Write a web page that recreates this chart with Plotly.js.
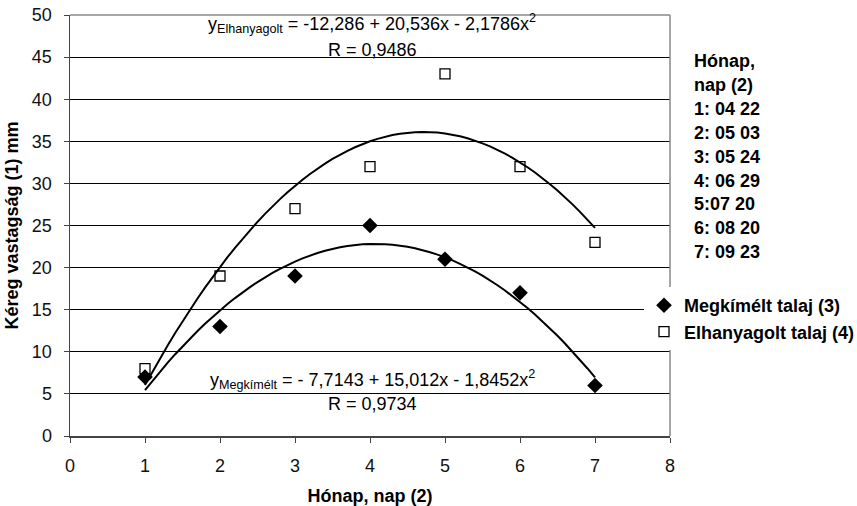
<!DOCTYPE html>
<html><head><meta charset="utf-8">
<script src="https://cdn.plot.ly/plotly-3.0.1.min.js"></script>
<style>html,body{margin:0;padding:0;background:#fff}</style>
</head><body><div id="chart" style="width:857px;height:506px"></div>
<script>
// ---- data ----
const months = [1, 2, 3, 4, 5, 6, 7];
const megkimelt = [7, 13, 19, 25, 21, 17, 6];
const elhanyagolt = [8, 19, 27, 32, 43, 32, 23];
const coefMegkimelt = [-7.7143, 15.012, -1.8452];
const coefElhanyagolt = [-12.286, 20.536, -2.1786];
const seriesNames = ['Megkímélt talaj (3)', 'Elhanyagolt talaj (4)'];
const eqElhanyagolt = 'y<sub>Elhanyagolt</sub> = -12,286 + 20,536x - 2,1786x<sup>2</sup>';
const rElhanyagolt = 'R = 0,9486';
const eqMegkimelt = 'y<sub>Megkímélt</sub> = - 7,7143 + 15,012x - 1,8452x<sup>2</sup>';
const rMegkimelt = 'R = 0,9734';
const noteLines = ['Hónap,', 'nap (2)', '1: 04 22', '2: 05 03', '3: 05 24', '4: 06 29', '5:07 20', '6: 08 20', '7: 09 23'];
const xTitle = 'Hónap, nap (2)';
const yTitle = 'Kéreg vastagság (1) mm';

// ---- trend curves from the fitted coefficients ----
function curve(c) {
  const xs = [], ys = [];
  for (let i = 0; i <= 60; i++) {
    const x = 1 + i * 0.1;
    xs.push(x);
    ys.push(c[0] + c[1] * x + c[2] * x * x);
  }
  return {x: xs, y: ys};
}
const cM = curve(coefMegkimelt), cE = curve(coefElhanyagolt);

const FONT = '"Liberation Sans", Arial, sans-serif';
const FS = 18;

const traces = [
  {x: cE.x, y: cE.y, mode: 'lines', line: {color: '#000', width: 2}, showlegend: false, hoverinfo: 'skip'},
  {x: cM.x, y: cM.y, mode: 'lines', line: {color: '#000', width: 2}, showlegend: false, hoverinfo: 'skip'},
  {x: months, y: megkimelt, mode: 'markers', name: seriesNames[0],
   marker: {symbol: 'diamond', size: 12, color: '#000', line: {width: 0}}},
  {x: months, y: elhanyagolt, mode: 'markers', name: seriesNames[1],
   marker: {symbol: 'square-open', size: 10, color: '#000', line: {width: 1.3, color: '#000'}}}
];

const T = 15, B = 70, L = 70, R = 187, H = 506 - T - B, W = 857 - L - R;
const py = p => (436 - p) / H;
const px = p => (p - L) / W;

const annotations = [
  {text: eqElhanyagolt, x: px(372), y: py(24)},
  {text: rElhanyagolt, x: px(372), y: py(50)},
  {text: eqMegkimelt, x: px(372), y: py(379)},
  {text: rMegkimelt, x: px(372), y: py(404)}
].map(a => Object.assign({xref: 'paper', yref: 'paper', xanchor: 'center', yanchor: 'middle',
  showarrow: false, font: {family: FONT, size: FS, color: '#000'}}, a));

noteLines.forEach((t, i) => {
  annotations.push({text: '<b>' + t + '</b>', xref: 'paper', yref: 'paper',
    x: px(692), y: py(61 + i * 23.9), xanchor: 'left', yanchor: 'middle', showarrow: false,
    font: {family: FONT, size: FS, color: '#000'}});
});

const layout = {
  width: 857, height: 506,
  margin: {l: L, r: R, t: T, b: B, autoexpand: false},
  paper_bgcolor: '#fff', plot_bgcolor: '#fff',
  font: {family: FONT, size: FS, color: '#000'},
  showlegend: true,
  legend: {x: px(644), y: py(287), xanchor: 'left', yanchor: 'top', bgcolor: '#fff',
    borderwidth: 0, font: {family: FONT, size: FS, color: '#000', weight: 'bold'},
    itemwidth: 30, tracegroupgap: 0},
  xaxis: {range: [0, 8], dtick: 1, tick0: 0, showgrid: false, zeroline: false,
    showline: true, linecolor: '#444', linewidth: 1.5, ticks: 'outside', ticklen: 5, tickcolor: '#444',
    tickfont: {family: FONT, size: FS, color: '#111'}, ticklabelstandoff: 8,
    title: {text: '<b>' + xTitle + '</b>', font: {family: FONT, size: FS, color: '#000'}, standoff: 14},
    fixedrange: true},
  yaxis: {range: [0, 50], dtick: 5, tick0: 0, showgrid: true, gridcolor: '#000', gridwidth: 1,
    zeroline: false, showline: true, linecolor: '#444', linewidth: 1.5, ticks: 'outside', ticklen: 5,
    tickcolor: '#444', tickfont: {family: FONT, size: FS, color: '#111'}, ticklabelstandoff: 8,
    title: {text: '<b>' + yTitle + '</b>', font: {family: FONT, size: FS, color: '#000'}, standoff: 8},
    fixedrange: true},
  shapes: [
    {type: 'line', xref: 'paper', yref: 'paper', x0: 0, x1: 1, y0: 1, y1: 1, line: {color: '#888', width: 1.5}, layer: 'above'},
    {type: 'line', xref: 'paper', yref: 'paper', x0: 1, x1: 1, y0: 0, y1: 1, line: {color: '#888', width: 1.5}, layer: 'above'}
  ],
  annotations: annotations
};

Plotly.newPlot('chart', traces, layout, {displayModeBar: false, staticPlot: true});
</script></body></html>
